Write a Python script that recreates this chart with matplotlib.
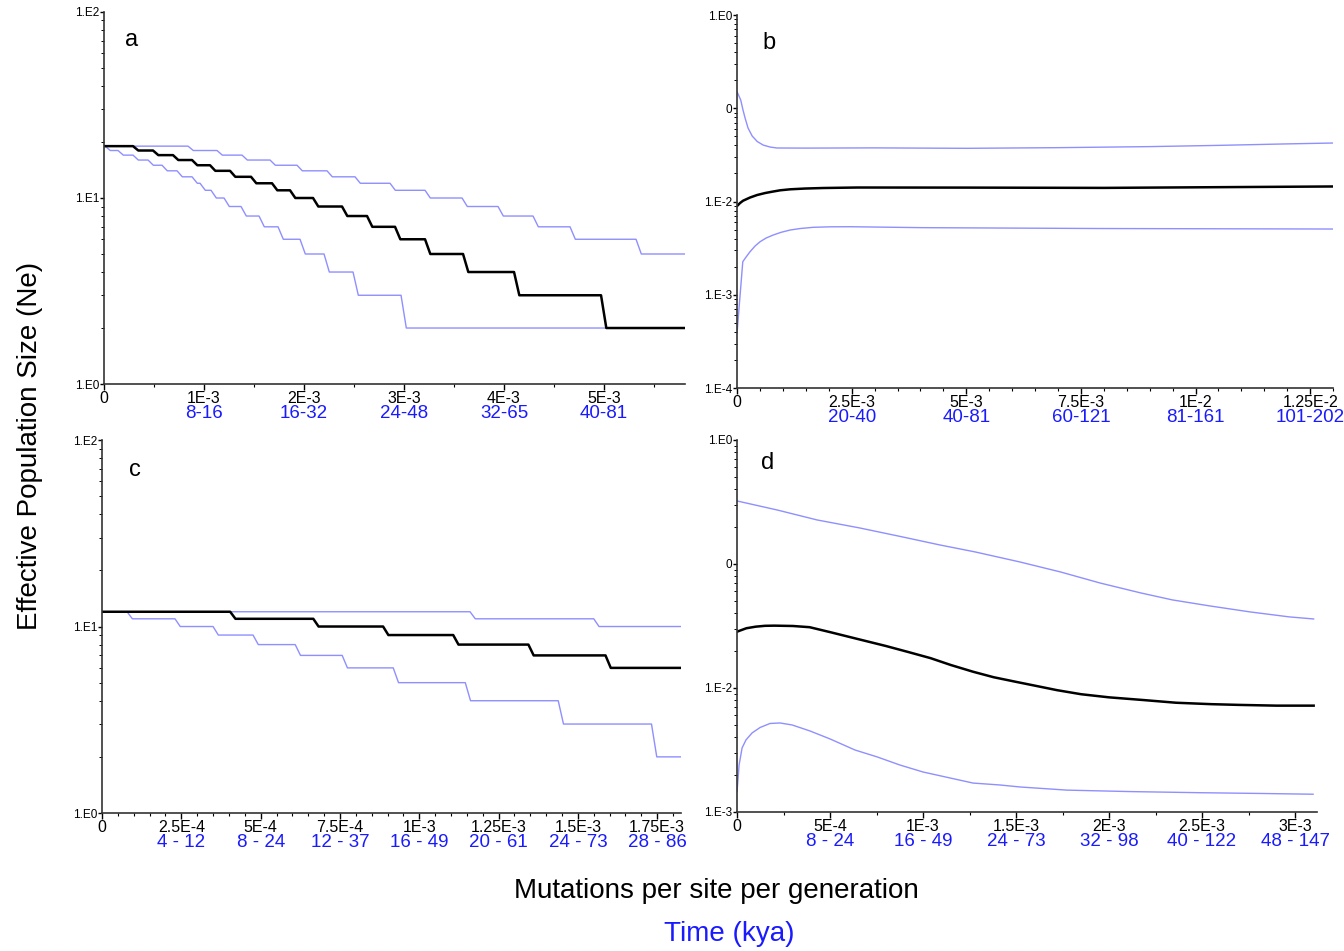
import numpy as np
import matplotlib.pyplot as plt
from matplotlib.ticker import FixedLocator, FixedFormatter, LogLocator, MultipleLocator, NullFormatter

plt.rcParams['font.family'] = ['Liberation Sans', 'DejaVu Sans']

MEDIAN = 'black'
HPD = '#8f8fff'
KYA = '#1a1aff'

# --- a: skyline steps (x in units of 1E-3) ---
a_xmax = 5.81
a_med_breaks = [0.29, 0.49, 0.69, 0.88, 1.06, 1.26, 1.47, 1.68, 1.86, 2.09, 2.38, 2.63, 2.91, 3.21, 3.59, 4.10, 4.97]
a_med_levels = [19, 18, 17, 16, 15, 14, 13, 12, 11, 10, 9, 8, 7, 6, 5, 4, 3, 2]
a_hi_breaks = [0.84, 1.13, 1.38, 1.66, 1.93, 2.23, 2.51, 2.86, 3.21, 3.58, 3.94, 4.29, 4.66, 5.32]
a_hi_levels = [19, 18, 17, 16, 15, 14, 13, 12, 11, 10, 9, 8, 7, 6, 5]
a_lo_breaks = [0.01, 0.14, 0.29, 0.44, 0.58, 0.73, 0.88, 0.96, 1.07, 1.20, 1.37, 1.55, 1.74, 1.96, 2.20, 2.49, 2.97]
a_lo_levels = [19, 18, 17, 16, 15, 14, 13, 12, 11, 10, 9, 8, 7, 6, 5, 4, 3, 2]
a_xticks = ['0', '1E-3', '2E-3', '3E-3', '4E-3', '5E-3']
a_kya = ['8-16', '16-32', '24-48', '32-65', '40-81']

# --- b: smooth skyline (x in units of 1E-3) ---
b_xmax = 13.0
b_med_x = [0, 0.066, 0.131, 0.284, 0.437, 0.612, 0.765, 0.94, 1.158, 1.486, 1.88, 2.62,
           5, 8, 10, 12, 13.0]
b_med_y = [0.00895, 0.00964, 0.0102, 0.01104, 0.01174, 0.01233, 0.01274, 0.01319, 0.01352,
           0.01378, 0.01396, 0.01413, 0.0141, 0.0140, 0.0142, 0.0144, 0.0145]
b_hi_x = [0, 0.08, 0.13, 0.175, 0.24, 0.33, 0.44, 0.57, 0.72, 0.87, 1.5, 3, 5, 7, 9, 10.5, 12, 13.0]
b_hi_y = [0.1505, 0.1226, 0.0958, 0.0786, 0.0614, 0.0504, 0.0440, 0.0403, 0.0384, 0.0375,
          0.0374, 0.0376, 0.0372, 0.0378, 0.0388, 0.0400, 0.0415, 0.0424]
b_lo_x = [0, 0.125, 0.197, 0.284, 0.393, 0.503, 0.634, 0.787, 0.961, 1.158, 1.377, 1.66, 2.03,
          2.47, 4.03, 7.93, 13.0]
b_lo_y = [0.000389, 0.002262, 0.00254, 0.002896, 0.003333, 0.003707, 0.00406, 0.00437, 0.004675,
          0.004947, 0.005133, 0.005288, 0.005354, 0.005367, 0.005244, 0.005133, 0.00507]
b_xticks = ['0', '2.5E-3', '5E-3', '7.5E-3', '1E-2', '1.25E-2']
b_kya = ['20-40', '40-81', '60-121', '81-161', '101-202']

# --- c: skyline steps (x in units of 1E-4) ---
c_xmax = 18.25
c_med_breaks = [4.04, 6.66, 8.86, 11.07, 13.44, 15.87]
c_med_levels = [12, 11, 10, 9, 8, 7, 6]
c_hi_breaks = [11.6, 15.5]
c_hi_levels = [12, 11, 10]
c_lo_breaks = [0.79, 2.30, 3.50, 4.76, 6.09, 7.57, 9.18, 11.45, 14.38, 17.32]
c_lo_levels = [12, 11, 10, 9, 8, 7, 6, 5, 4, 3, 2]
c_xticks = ['0', '2.5E-4', '5E-4', '7.5E-4', '1E-3', '1.25E-3', '1.5E-3', '1.75E-3']
c_kya = ['4 - 12', '8 - 24', '12 - 37', '16 - 49', '20 - 61', '24 - 73', '28 - 86']

# --- d: smooth skyline (x in units of 1E-3) ---
d_xmax = 3.118
d_med_x = [0, 0.05, 0.1, 0.15, 0.2, 0.3, 0.39, 0.5, 0.64, 0.8, 0.92, 1.04, 1.15, 1.27, 1.38, 1.5,
           1.62, 1.72, 1.85, 2.0, 2.18, 2.36, 2.55, 2.7, 2.9, 3.1]
d_med_y = [0.02843, 0.0303, 0.0312, 0.0317, 0.0318, 0.0316, 0.0309, 0.0282, 0.0250, 0.0218,
           0.0195, 0.0174, 0.0153, 0.0135, 0.0122, 0.0112, 0.0103, 0.0096, 0.0089, 0.0084,
           0.0080, 0.0076, 0.0074, 0.0073, 0.0072, 0.0072]
d_hi_x = [0, 0.215, 0.43, 0.66, 0.89, 1.09, 1.28, 1.52, 1.74, 1.95, 2.17, 2.34, 2.54, 2.76, 2.97, 3.1]
d_hi_y = [0.322, 0.2725, 0.2264, 0.195, 0.1651, 0.1423, 0.125, 0.1038, 0.0861, 0.0703, 0.0584,
          0.0513, 0.0459, 0.041, 0.0374, 0.036]
d_lo_x = [0, 0.011, 0.027, 0.048, 0.081, 0.124, 0.177, 0.231, 0.296, 0.392, 0.5, 0.634, 0.753,
          0.876, 1.0, 1.145, 1.269, 1.414, 1.522, 1.774, 2.113, 2.489, 2.812, 3.097]
d_lo_y = [0.001458, 0.00239, 0.00328, 0.00381, 0.00434, 0.0048, 0.00517, 0.00522, 0.00503,
          0.0045, 0.00388, 0.00316, 0.00278, 0.00239, 0.0021, 0.00188, 0.00171, 0.00165,
          0.00159, 0.0015, 0.00146, 0.00143, 0.00141, 0.00139]
d_xticks = ['0', '5E-4', '1E-3', '1.5E-3', '2E-3', '2.5E-3', '3E-3']
d_kya = ['8 - 24', '16 - 49', '24 - 73', '32 - 98', '40 - 122', '48 - 147']


def skyline(breaks, levels, xmax, ramp):
    # piecewise-constant Ne with short linear transitions between grid cells
    xs, ys = [0.0], [levels[0]]
    for b, v0, v1 in zip(breaks, levels[:-1], levels[1:]):
        xs += [b, b + ramp]
        ys += [v0, v1]
    xs.append(xmax)
    ys.append(levels[-1])
    return np.array(xs), np.array(ys)


def setup(ax, scale, xmax, xstep, xminor, xlabels, kya, yticks, ylabels, letter, lpos):
    ax.set_yscale('log')
    ax.set_xlim(0, xmax * scale)
    ax.set_ylim(yticks[0], yticks[-1])
    for s in ('top', 'right'):
        ax.spines[s].set_visible(False)
    for s in ('left', 'bottom'):
        ax.spines[s].set_linewidth(1.2)
        ax.spines[s].set_color('#333333')
    xt = [i * xstep for i in range(len(xlabels))]
    ax.xaxis.set_major_locator(FixedLocator(xt))
    ax.xaxis.set_major_formatter(FixedFormatter(xlabels))
    ax.xaxis.set_minor_locator(MultipleLocator(xminor))
    ax.yaxis.set_major_locator(FixedLocator(yticks))
    ax.yaxis.set_major_formatter(FixedFormatter(ylabels))
    ax.yaxis.set_minor_locator(LogLocator(base=10, subs=np.arange(2, 10)))
    ax.yaxis.set_minor_formatter(NullFormatter())
    ax.tick_params(axis='x', which='major', direction='out', length=4, width=1, pad=1, labelsize=11.5)
    ax.tick_params(axis='x', which='minor', direction='out', length=2.5, width=0.8)
    ax.tick_params(axis='y', which='major', direction='out', length=3, width=1, pad=0.5, labelsize=8.5)
    ax.tick_params(axis='y', which='minor', direction='out', length=2, width=0.7)
    trans = ax.get_xaxis_transform()
    for x, lab in zip(xt[1:], kya):
        ax.annotate(lab, xy=(x, 0), xycoords=trans, xytext=(0, -21), textcoords='offset points',
                    ha='center', va='center', color=KYA, fontsize=13.5, annotation_clip=False)
    ax.text(lpos[0], lpos[1], letter, transform=ax.transAxes, fontsize=17, ha='center', va='center')


fig = plt.figure(figsize=(13.44, 9.51), dpi=100)
ax_a = fig.add_axes([0.0774, 0.5962, 0.4323, 0.3912])
ax_b = fig.add_axes([0.5484, 0.5920, 0.4435, 0.3922])
ax_c = fig.add_axes([0.0759, 0.1451, 0.4308, 0.3922])
ax_d = fig.add_axes([0.5484, 0.1462, 0.4315, 0.3912])

# a
s = 1e-3
for br, lv, col, lw in [(a_hi_breaks, a_hi_levels, HPD, 1.0), (a_lo_breaks, a_lo_levels, HPD, 1.0),
                        (a_med_breaks, a_med_levels, MEDIAN, 1.8)]:
    x, y = skyline(br, lv, a_xmax, a_xmax / 110)
    ax_a.plot(x * s, y, color=col, lw=lw)
setup(ax_a, s, a_xmax, 1e-3, 5e-4, a_xticks, a_kya, [1, 10, 100], ['1.E0', '1.E1', '1.E2'],
      'a', (0.048, 0.925))

# b
for x, y, col, lw in [(b_hi_x, b_hi_y, HPD, 1.0), (b_lo_x, b_lo_y, HPD, 1.0), (b_med_x, b_med_y, MEDIAN, 1.8)]:
    ax_b.plot(np.array(x) * s, y, color=col, lw=lw)
setup(ax_b, s, b_xmax, 2.5e-3, 5e-4, b_xticks, b_kya, [1e-4, 1e-3, 1e-2, 1e-1, 1],
      ['1.E-4', '1.E-3', '1.E-2', '0', '1.E0'], 'b', (0.053, 0.925))

# c
s = 1e-4
for br, lv, col, lw in [(c_hi_breaks, c_hi_levels, HPD, 1.0), (c_lo_breaks, c_lo_levels, HPD, 1.0),
                        (c_med_breaks, c_med_levels, MEDIAN, 1.8)]:
    x, y = skyline(br, lv, c_xmax, c_xmax / 110)
    ax_c.plot(x * s, y, color=col, lw=lw)
setup(ax_c, s, c_xmax, 2.5e-4, 5e-5, c_xticks, c_kya, [1, 10, 100], ['1.E0', '1.E1', '1.E2'],
      'c', (0.057, 0.92))

# d
s = 1e-3
for x, y, col, lw in [(d_hi_x, d_hi_y, HPD, 1.0), (d_lo_x, d_lo_y, HPD, 1.0), (d_med_x, d_med_y, MEDIAN, 1.8)]:
    ax_d.plot(np.array(x) * s, y, color=col, lw=lw)
setup(ax_d, s, d_xmax, 5e-4, 2.5e-4, d_xticks, d_kya, [1e-3, 1e-2, 1e-1, 1],
      ['1.E-3', '1.E-2', '0', '1.E0'], 'd', (0.053, 0.938))

fig.text(0.0223, 0.531, 'Effective Population Size (Ne)', rotation=90, ha='center', va='center', fontsize=20)
fig.text(0.5327, 0.0631, 'Mutations per site per generation', ha='center', va='center', fontsize=20)
fig.text(0.5424, 0.0179, 'Time (kya)', ha='center', va='center', fontsize=20, color=KYA)

fig.savefig('out.png', dpi=100)
